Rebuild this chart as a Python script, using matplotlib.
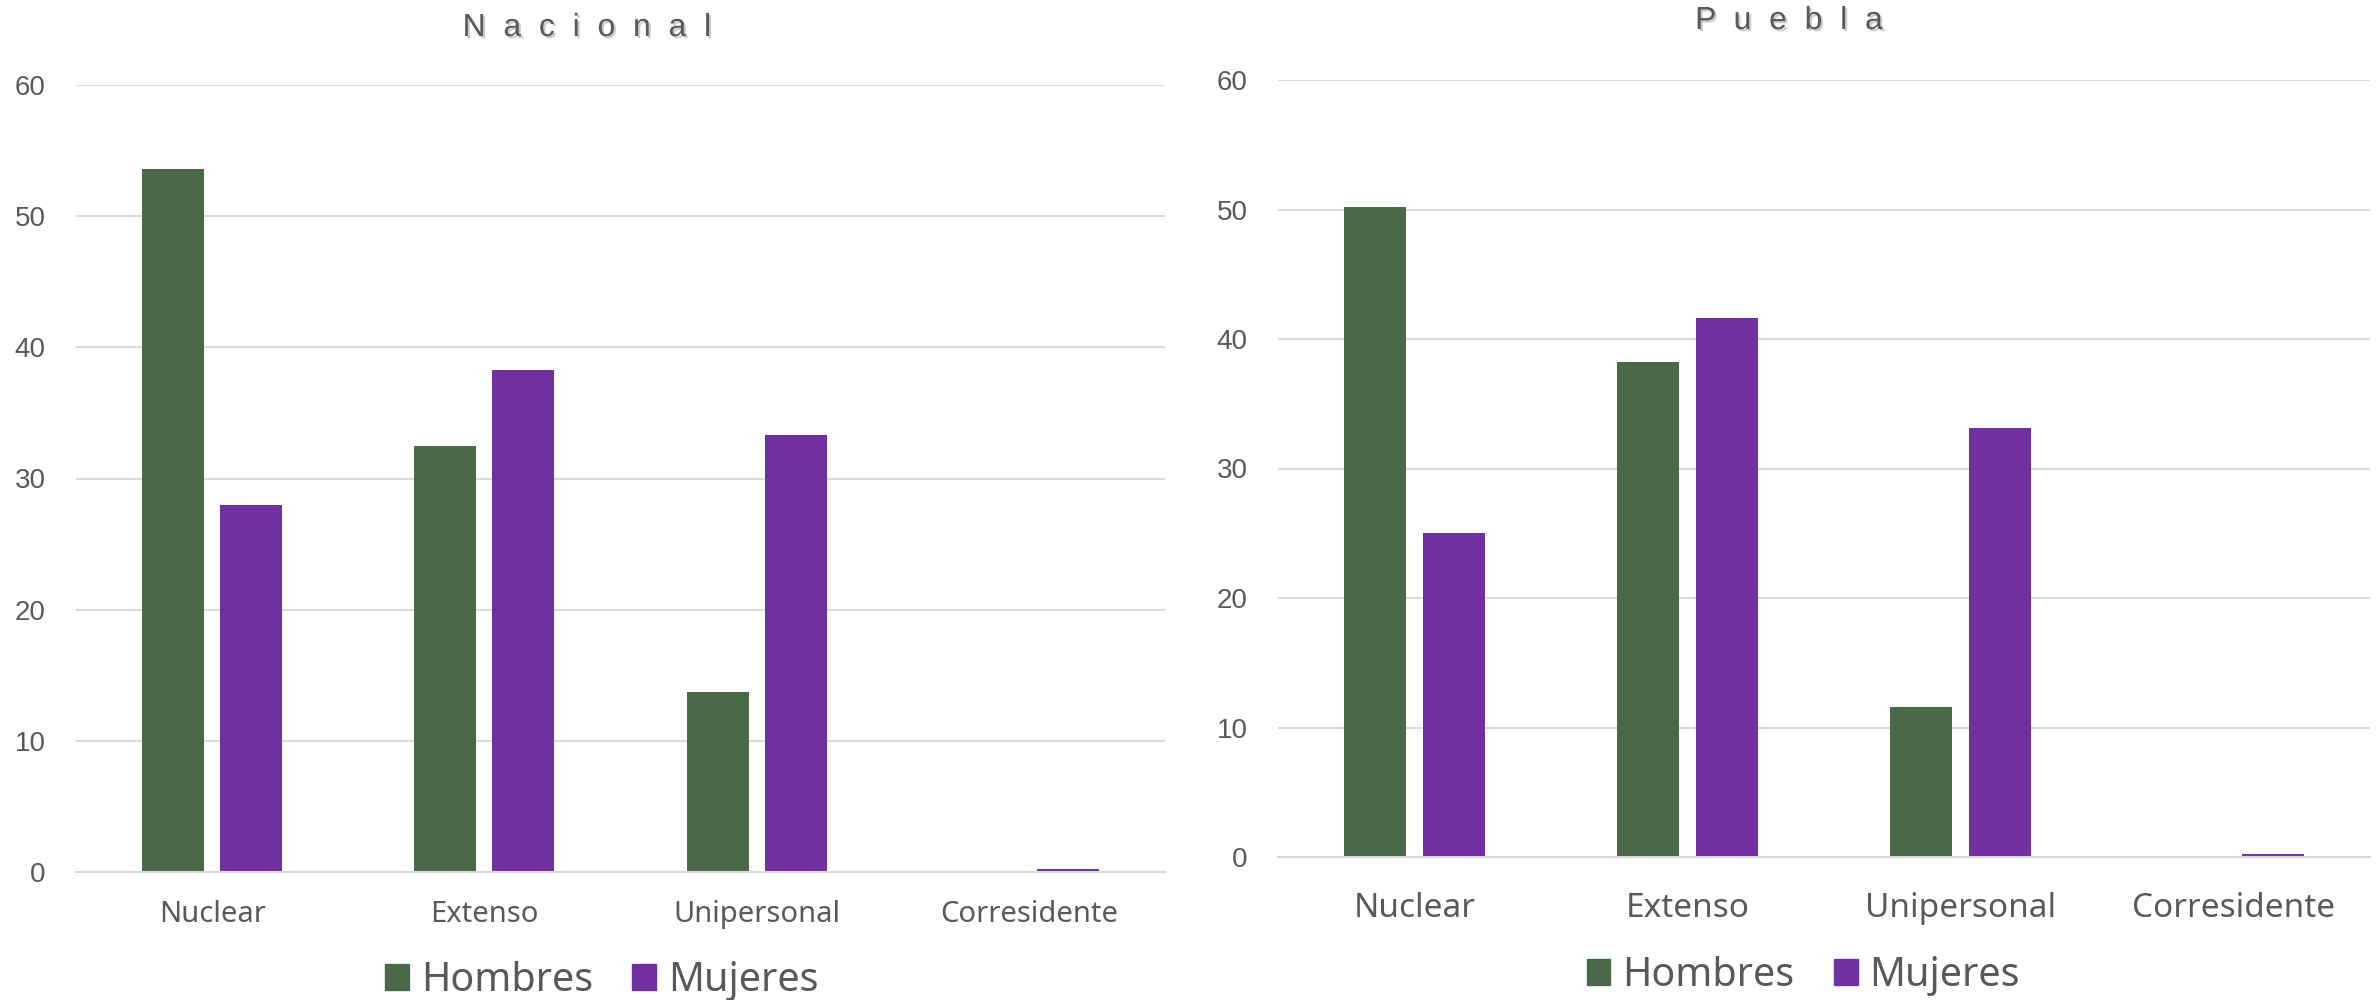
import matplotlib
matplotlib.use("Agg")
import matplotlib.pyplot as plt
import matplotlib.patheffects as pe
from matplotlib.patches import Patch
import numpy as np

categories = ["Nuclear", "Extenso", "Unipersonal", "Corresidente"]
series_names = ["Hombres", "Mujeres"]
nacional_hombres = [53.6, 32.5, 13.7, 0.05]
nacional_mujeres = [28.0, 38.3, 33.3, 0.22]
puebla_hombres = [50.2, 38.2, 11.6, 0.08]
puebla_mujeres = [25.0, 41.6, 33.1, 0.25]
titles = ["N  a  c  i  o  n  a  l", "P  u  e  b  l  a"]
yticks = [0, 10, 20, 30, 40, 50, 60]

GREEN = "#4B6949"
PURPLE = "#7030A0"
TEXT = "#595959"
GRID = "#D9D9D9"

fig = plt.figure(figsize=(23.79, 10), dpi=100)

panels = [
    dict(rect=[76/2379, 0.128, (1165-76)/2379, 0.915-0.128],
         h=nacional_hombres, m=nacional_mujeres, title=titles[0],
         tx=0.2468, ty=0.972, cat_fs=21, cat_pad=20, leg_x=0.253, leg_y=0.019, leg_fs=28.5),
    dict(rect=[1278/2379, 0.143, (2370-1278)/2379, 0.920-0.143],
         h=puebla_hombres, m=puebla_mujeres, title=titles[1],
         tx=0.752, ty=0.979, cat_fs=24, cat_pad=25, leg_x=0.758, leg_y=0.024, leg_fs=28.5),
]

bw = 0.228
gap = 0.059
x = np.arange(len(categories))

for p in panels:
    ax = fig.add_axes(p["rect"])
    ax.bar(x - (bw + gap) / 2, p["h"], width=bw, color=GREEN, zorder=3)
    ax.bar(x + (bw + gap) / 2, p["m"], width=bw, color=PURPLE, zorder=3)
    ax.set_xlim(-0.5, len(categories) - 0.5)
    ax.set_ylim(0, 60)
    ax.set_yticks(yticks)
    ax.yaxis.grid(True, color=GRID, linewidth=1.5, zorder=0)
    ax.set_axisbelow(True)
    for s in ["top", "right", "left"]:
        ax.spines[s].set_visible(False)
    ax.spines["bottom"].set_color(GRID)
    ax.spines["bottom"].set_linewidth(1.5)
    ax.spines["bottom"].set_zorder(4)
    ax.tick_params(axis="both", length=0)
    ax.tick_params(axis="y", pad=22, labelsize=20, labelcolor=TEXT)
    ax.set_xticks(x)
    ax.set_xticklabels(categories, fontsize=p["cat_fs"], color=TEXT, family="Noto Sans")
    ax.tick_params(axis="x", pad=p["cat_pad"])
    for lab in ax.get_yticklabels():
        lab.set_family("Liberation Sans")
    fig.text(p["tx"], p["ty"], p["title"], ha="center", va="center", fontsize=23,
             color=TEXT, family="Liberation Sans",
             path_effects=[pe.withSimplePatchShadow(offset=(1.5, -1.5), shadow_rgbFace="#999999", alpha=0.5)])
    handles = [Patch(color=GREEN, label=series_names[0]), Patch(color=PURPLE, label=series_names[1])]
    fig.legend(handles=handles, loc="center", bbox_to_anchor=(p["leg_x"], p["leg_y"]),
               ncol=2, frameon=False, prop={"family": "Noto Sans", "size": p["leg_fs"]},
               labelcolor=TEXT, handlelength=0.6, handleheight=0.6, handletextpad=0.3,
               columnspacing=1.0)

fig.savefig("out.png", dpi=100)
